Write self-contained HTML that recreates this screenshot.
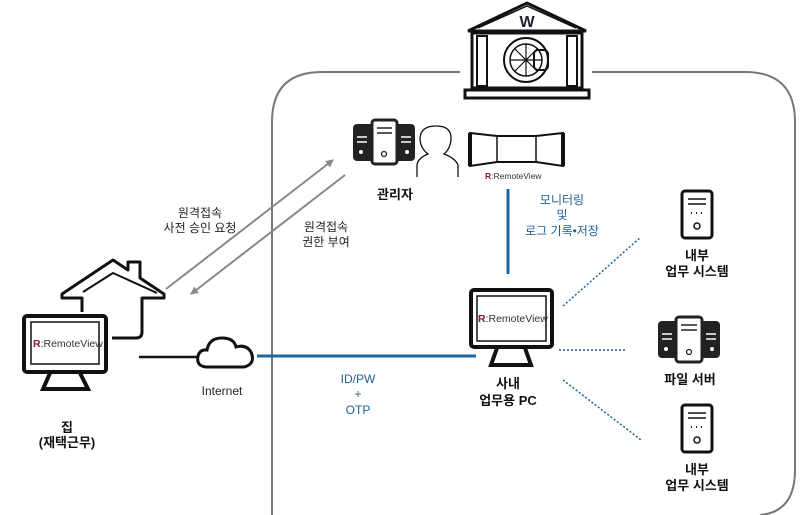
<!DOCTYPE html>
<html><head><meta charset="utf-8"><style>
body{margin:0;background:#fff}
svg{display:block}
text{font-family:"Liberation Sans","Noto Sans CJK KR",sans-serif}
.b{font-weight:bold;font-size:13px;fill:#111}
.g{font-size:12px;fill:#222}
.bl{font-size:12px;fill:#1f5f9a}
</style></head><body>
<svg width="800" height="515" viewBox="0 0 800 515">
<defs>
<marker id="ah" markerWidth="8" markerHeight="8" refX="7" refY="4" orient="auto" markerUnits="userSpaceOnUse"><path d="M0,0 L8,4 L0,8 z" fill="#888"/></marker>
</defs>
<path d="M460,72 L322,72 Q272,72 272,122 L272,520" fill="none" stroke="#777" stroke-width="2"/>
<path d="M592,72 L745,72 Q795,72 795,122 L795,470 Q795,512 760,515" fill="none" stroke="#777" stroke-width="2"/>
<g stroke="#111" stroke-width="3" fill="none">
<path d="M468,31 L527,3 L586,31 Z"/>
<path d="M478,28 L527,6 L576,28" stroke-width="1.5"/>
<rect x="472" y="33" width="110" height="55"/>
<rect x="477" y="36" width="10" height="50" stroke-width="2"/>
<rect x="567" y="36" width="10" height="50" stroke-width="2"/>
<rect x="465" y="90" width="124" height="8"/>
<circle cx="526" cy="60" r="22" stroke-width="2"/>
<circle cx="526" cy="60" r="16" stroke-width="1.5"/>
<path d="M510,60 H542 M526,44 V76 M515,49 L537,71 M537,49 L515,71" stroke-width="1.2"/>
<rect x="534" y="50" width="14" height="20" rx="4" stroke-width="2"/>
</g>
<text x="527" y="27" text-anchor="middle" font-size="16" fill="#223" font-weight="bold">W</text>
<g>
<rect x="353" y="124" width="62" height="37" rx="4" fill="#222"/>
<rect x="372" y="120" width="25" height="44" rx="3" fill="#fff" stroke="#222" stroke-width="3"/>
<path d="M377,128 H392 M377,133 H392" stroke="#222" stroke-width="1.5"/>
<circle cx="384" cy="154" r="2.5" fill="none" stroke="#222" stroke-width="1.3"/>
<circle cx="361" cy="152" r="2" fill="#fff"/><circle cx="407" cy="152" r="2" fill="#fff"/>
<path d="M357,137 H367 M357,142 H367 M401,137 H411 M401,142 H411" stroke="#fff" stroke-width="1.5"/>
</g>
<path d="M417,177 L417,165 Q418,158 428,154 Q420,148 420,138 Q421,126 436,126 Q451,126 451,138 Q451,148 444,154 Q455,158 458,165 L458,177" fill="none" stroke="#111" stroke-width="1.3"/>
<g fill="none" stroke="#111">
<path d="M470,133 L497,136 L536,136 L563,133 L563,166 L536,162 L497,162 L470,166 Z" stroke-width="2"/>
<path d="M470,133 L470,166" stroke-width="4"/><path d="M563,133 L563,166" stroke-width="4"/>
<path d="M497,136 V162 M536,136 V162" stroke-width="1.5"/>
</g>
<text x="485" y="179" font-size="8.5" fill="#333"><tspan fill="#8b1a2b" font-weight="bold">R</tspan>:RemoteView</text>
<text x="395" y="199" text-anchor="middle" class="b">관리자</text>
<line x1="508" y1="189" x2="508" y2="274" stroke="#1f64a3" stroke-width="3"/>
<text x="562" y="204" text-anchor="middle" class="bl">모니터링</text>
<text x="562" y="219" text-anchor="middle" class="bl">및</text>
<text x="562" y="235" text-anchor="middle" class="bl">로그 기록•저장</text>
<line x1="166" y1="289" x2="333" y2="160" stroke="#888" stroke-width="2" marker-end="url(#ah)"/>
<line x1="345" y1="175" x2="191" y2="294" stroke="#888" stroke-width="2" marker-end="url(#ah)"/>
<text x="200" y="217" text-anchor="middle" class="g">원격접속</text>
<text x="200" y="232" text-anchor="middle" class="g">사전 승인 요청</text>
<text x="326" y="231" text-anchor="middle" class="g">원격접속</text>
<text x="326" y="246" text-anchor="middle" class="g">권한 부여</text>
<!-- house -->
<g fill="none" stroke="#111" stroke-width="3" stroke-linejoin="round">
<path d="M82,312 L82,298 L62,298 L62,294 L113,260 L128,270 L128,262 L140,262 L140,278 L164,294 L164,298 L142,298 L142,332 Q142,338 136,338 L112,338"/>
<path d="M83,292 L113,273 L157,293" stroke-width="2"/>
</g>
<g fill="none" stroke="#111">
<rect x="24" y="316" width="82" height="56" rx="3" stroke-width="4"/>
<rect x="31" y="322" width="68" height="42" stroke-width="1.5" fill="#fff"/>
<path d="M50,373 L43,389 L88,389 L80,373" stroke-width="4"/>
</g>
<text x="33" y="347" font-size="10.5" fill="#333"><tspan fill="#8b1a2b" font-weight="bold">R</tspan>:RemoteView</text>
<text x="67" y="432" text-anchor="middle" class="b">집</text>
<text x="67" y="447" text-anchor="middle" class="b">(재택근무)</text>
<line x1="139" y1="357" x2="198" y2="357" stroke="#111" stroke-width="2.5"/>
<path d="M206,367 Q196,366 198,356 Q200,349 207,350 Q209,338 222,338 Q234,338 236,347 Q246,344 251,352 Q256,364 244,367 Z" fill="none" stroke="#111" stroke-width="3"/>
<text x="222" y="395" text-anchor="middle" class="g">Internet</text>
<line x1="257" y1="356" x2="476" y2="356" stroke="#1f64a3" stroke-width="3"/>
<text x="358" y="383" text-anchor="middle" class="bl">ID/PW</text>
<text x="358" y="398" text-anchor="middle" class="bl">+</text>
<text x="358" y="414" text-anchor="middle" class="bl">OTP</text>
<g fill="none" stroke="#111">
<rect x="471" y="290" width="81" height="57" rx="3" stroke-width="4"/>
<rect x="477" y="296" width="69" height="45" stroke-width="1.5"/>
<path d="M497,348 L491,365 L531,365 L525,348" stroke-width="4"/>
</g>
<text x="478" y="322" font-size="10.5" fill="#333"><tspan fill="#8b1a2b" font-weight="bold">R</tspan>:RemoteView</text>
<text x="508" y="388" text-anchor="middle" class="b">사내</text>
<text x="508" y="405" text-anchor="middle" class="b">업무용 PC</text>
<g stroke="#1f5f9a" stroke-width="1.5" stroke-dasharray="2,2">
<line x1="563" y1="306" x2="641" y2="237"/>
<line x1="559" y1="350" x2="625" y2="350"/>
<line x1="563" y1="380" x2="641" y2="440"/>
</g>
<g id="sv" fill="none" stroke="#111">
<rect x="682" y="191" width="30" height="47" rx="3" stroke-width="3"/>
<path d="M688,199 H706 M688,204 H706" stroke-width="1.5"/>
<path d="M691,213 h1 M696,213 h1 M701,213 h1" stroke-width="2"/>
<circle cx="697" cy="226" r="3" stroke-width="1.5"/>
</g>
<use href="#sv" y="214"/>
<text x="697" y="260" text-anchor="middle" class="b">내부</text>
<text x="697" y="276" text-anchor="middle" class="b">업무 시스템</text>
<text x="697" y="474" text-anchor="middle" class="b">내부</text>
<text x="697" y="490" text-anchor="middle" class="b">업무 시스템</text>
<g>
<rect x="658" y="321" width="62" height="37" rx="4" fill="#222"/>
<rect x="676" y="317" width="26" height="45" rx="3" fill="#fff" stroke="#222" stroke-width="3"/>
<path d="M681,325 H697 M681,330 H697" stroke="#222" stroke-width="1.5"/>
<circle cx="689" cy="352" r="2.5" fill="none" stroke="#222" stroke-width="1.3"/>
<circle cx="666" cy="349" r="2" fill="#fff"/><circle cx="712" cy="349" r="2" fill="#fff"/>
<path d="M662,334 H672 M662,339 H672 M706,334 H716 M706,339 H716" stroke="#fff" stroke-width="1.5"/>
</g>
<text x="690" y="384" text-anchor="middle" class="b">파일 서버</text>
</svg>
</body></html>
